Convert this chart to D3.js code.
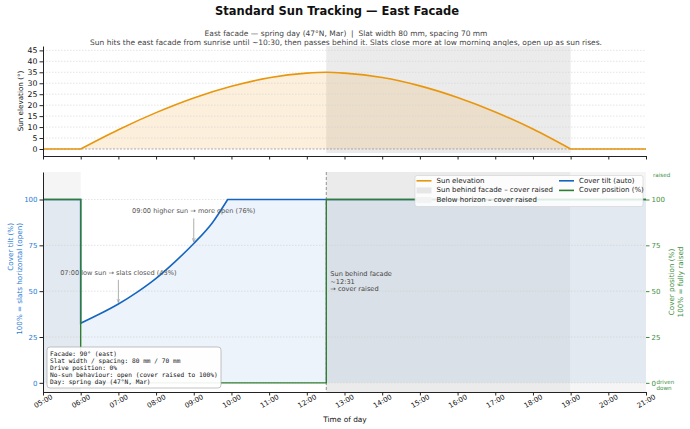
<!DOCTYPE html>
<html><head><meta charset="utf-8">
<script src="https://cdn.jsdelivr.net/npm/d3@7"></script>
<style>body{margin:0;background:#fff;} svg{display:block;font-family:"DejaVu Sans",sans-serif;}</style>
</head><body><svg id="c" width="690" height="429"></svg>
<script>
// ---------- data ----------
const hourTicks = ["05:00","06:00","07:00","08:00","09:00","10:00","11:00","12:00","13:00","14:00","15:00","16:00","17:00","18:00","19:00","20:00","21:00"];
const elevTimes  = ["05:00","06:00","07:00","08:00","09:00","10:00","11:00","12:00","12:31","13:00","14:00","15:00","16:00","17:00","18:00","19:00","20:00","21:00"];
const elevValues = [0, 0, 8.8, 16.6, 23.3, 28.6, 32.5, 34.6, 35, 34.6, 32.6, 28.8, 23.5, 16.9, 9.1, 0, 0, 0];
const tiltTimes  = ["05:00","06:00","06:00","06:30","07:00","07:30","08:00","08:30","09:00","09:30","09:54","12:31","21:00"];
const tiltValues = [100, 100, 32.5, 37.5, 43, 49.5, 57, 66, 76, 87.5, 100, 100, 100];
const posTimes   = ["05:00","06:00","06:00","12:31","12:31","21:00"];
const posValues  = [100, 100, 0, 0, 100, 100];
const behindBand = ["12:31","19:00"];
const horizonBands = [["05:00","06:00"],["19:00","21:00"]];
const behindTime = "12:31";
const elevTicks  = [0,5,10,15,20,25,30,35,40,45];
const coverTicks = [0,25,50,75,100];
const infoLines = ["Facade: 90° (east)","Slat width / spacing: 80 mm / 70 mm","Drive position: 0%","No-sun behaviour: open (cover raised to 100%)","Day: spring day (47°N, Mar)"];
const annotations = [
  {t:"07:00", v:43, ty:60, text:"07:00 low sun → slats closed (43%)"},
  {t:"09:00", v:76, ty:93.5, text:"09:00 higher sun → more open (76%)"}
];
const legendCol1 = [
  {type:"line", color:"#E8960C", label:"Sun elevation"},
  {type:"rect", color:"#e6e6e6", label:"Sun behind facade – cover raised"},
  {type:"rect", color:"#f3f3f3", label:"Below horizon – cover raised"}
];
const legendCol2 = [
  {type:"line", color:"#1565c0", label:"Cover tilt (auto)"},
  {type:"line", color:"#2e7d32", label:"Cover position (%)"}
];

// ---------- helpers ----------
const tp = s => { const [h,m] = s.split(":").map(Number); return h + m/60; };
const ORANGE="#E8960C", BLUE="#1565c0", GREEN="#2e7d32", BLUE_T="#2a7bd6", GREEN_T="#3d8f40";
const svg = d3.select("#c");
const x = d3.scaleLinear().domain([5,21]).range([43,646]);
const yTop = d3.scaleLinear().domain([-3.2,47]).range([156,46]);
const yBot = d3.scaleLinear().domain([-5,115]).range([392,172]);

function buildPath(times, vals, ys){
  const pts = times.map((t,i)=>({t:tp(t), v:vals[i]}));
  const P = pts.map(p=>[x(p.t), ys(p.v)]);
  let d = "M"+P[0][0]+","+P[0][1];
  let i = 0;
  const sloped = k => pts[k+1].t!==pts[k].t && pts[k+1].v!==pts[k].v;
  while(i < pts.length-1){
    if(!sloped(i)){ d += "L"+P[i+1][0]+","+P[i+1][1]; i++; }
    else {
      let j=i+1; while(j<pts.length-1 && sloped(j)) j++;
      const seg = d3.line().curve(d3.curveMonotoneX)(P.slice(i,j+1));
      d += seg.replace(/^M[^A-Za-z]*/,"");
      i=j;
    }
  }
  return {d, first:P[0], last:P[P.length-1]};
}

// ---------- titles ----------
svg.append("text").attr("x",337).attr("y",11).attr("text-anchor","middle").attr("dominant-baseline","central")
  .attr("font-size",11.5).attr("font-weight","bold").attr("fill","#111").text("Standard Sun Tracking — East Facade");
svg.append("text").attr("x",346).attr("y",33).attr("text-anchor","middle").attr("dominant-baseline","central")
  .attr("font-size",7.5).attr("fill","#444").text("East facade — spring day (47°N, Mar)\u00a0\u00a0|\u00a0\u00a0Slat width 80 mm, spacing 70 mm");
svg.append("text").attr("x",346).attr("y",42.3).attr("text-anchor","middle").attr("dominant-baseline","central")
  .attr("font-size",7.5).attr("fill","#444").text("Sun hits the east facade from sunrise until ~10:30, then passes behind it. Slats close more at low morning angles, open up as sun rises.");

// ---------- top chart ----------
const topG = svg.append("g");
topG.append("rect").attr("x",x(tp(behindBand[0]))).attr("width",x(tp(behindBand[1]))-x(tp(behindBand[0])))
  .attr("y",46).attr("height",107).attr("fill","#ebebeb");
const ep = buildPath(elevTimes, elevValues, yTop);
topG.append("path").attr("d", ep.d+"L"+ep.last[0]+","+yTop(0)+"L"+ep.first[0]+","+yTop(0)+"Z")
  .attr("fill",ORANGE).attr("fill-opacity",0.15);
topG.selectAll(".g").data(elevTicks.filter(v=>v>0)).join("line")
  .attr("x1",43).attr("x2",646).attr("y1",d=>yTop(d)).attr("y2",d=>yTop(d))
  .attr("stroke","#d4d4d4").attr("stroke-width",0.6).attr("stroke-dasharray","1.5,1.5");
topG.append("line").attr("x1",43).attr("x2",646).attr("y1",yTop(0)).attr("y2",yTop(0))
  .attr("stroke","#888").attr("stroke-width",0.7).attr("stroke-dasharray","2,1.5");
topG.append("path").attr("d",ep.d).attr("fill","none").attr("stroke",ORANGE).attr("stroke-width",1.6);
const topL = topG.append("g").attr("transform","translate(43,0)")
  .call(d3.axisLeft(yTop).tickValues(elevTicks).tickSize(3.5).tickSizeOuter(0).tickPadding(2));
topL.attr("font-size",7.8).attr("font-family","DejaVu Sans");
topL.selectAll("text").attr("fill","#111");
topL.selectAll("line,path").attr("stroke","#222");
const topX = topG.append("g").attr("transform","translate(0,156)")
  .call(d3.axisBottom(x).tickValues(hourTicks.map(tp)).tickFormat("").tickSize(3.5).tickSizeOuter(0));
topX.selectAll("line,path").attr("stroke","#222");
topG.append("text").attr("transform","translate(20.5,101) rotate(-90)").attr("text-anchor","middle")
  .attr("dominant-baseline","central").attr("font-size",7.2).attr("fill","#111").text("Sun elevation (°)");

// ---------- bottom chart ----------
const bot = svg.append("g");
bot.append("rect").attr("x",x(tp(behindBand[0]))).attr("width",x(tp(behindBand[1]))-x(tp(behindBand[0])))
  .attr("y",172).attr("height",220).attr("fill","#ebebeb");
horizonBands.forEach(b=>{
  bot.append("rect").attr("x",x(tp(b[0]))).attr("width",x(tp(b[1]))-x(tp(b[0])))
    .attr("y",172).attr("height",220).attr("fill","#f5f5f5");
});
const tpth = buildPath(tiltTimes, tiltValues, yBot);
bot.append("path").attr("d", tpth.d+"L"+tpth.last[0]+","+yBot(0)+"L"+tpth.first[0]+","+yBot(0)+"Z")
  .attr("fill",BLUE).attr("fill-opacity",0.08);
bot.selectAll(".g").data(coverTicks).join("line")
  .attr("x1",43).attr("x2",646).attr("y1",d=>yBot(d)).attr("y2",d=>yBot(d))
  .attr("stroke","#d0d0d0").attr("stroke-width",0.6).attr("stroke-dasharray","1.5,1.5");
bot.append("line").attr("x1",x(tp(behindTime))).attr("x2",x(tp(behindTime))).attr("y1",172).attr("y2",392)
  .attr("stroke","#888").attr("stroke-width",0.9).attr("stroke-dasharray","3,2");
bot.append("path").attr("d",tpth.d).attr("fill","none").attr("stroke",BLUE).attr("stroke-width",1.6);
const pp = buildPath(posTimes, posValues, yBot);
bot.append("path").attr("d",pp.d).attr("fill","none").attr("stroke",GREEN).attr("stroke-width",1.4);

// annotations
const defs = svg.append("defs");
defs.append("marker").attr("id","arr").attr("viewBox","0 0 10 10").attr("refX",10).attr("refY",5)
  .attr("markerWidth",5).attr("markerHeight",5).attr("orient","auto")
  .append("path").attr("d","M0,1L10,5L0,9").attr("fill","none").attr("stroke","#999").attr("stroke-width",1.5);
annotations.forEach(a=>{
  const ax = x(tp(a.t));
  bot.append("text").attr("x",ax).attr("y",yBot(a.ty)).attr("text-anchor","middle").attr("dominant-baseline","central")
    .attr("font-size",6.6).attr("fill","#555").text(a.text);
  bot.append("line").attr("x1",ax).attr("x2",ax).attr("y1",yBot(a.ty)+7).attr("y2",yBot(a.v)-1.5)
    .attr("stroke","#999").attr("stroke-width",0.8).attr("marker-end","url(#arr)");
});
["Sun behind facade","~12:31","→ cover raised"].forEach((s,i)=>{
  bot.append("text").attr("x",x(tp(behindTime))+4).attr("y",274+i*7.6).attr("dominant-baseline","central")
    .attr("font-size",6.6).attr("fill","#444").text(s);
});

// axes
const bL = bot.append("g").attr("transform","translate(43,0)")
  .call(d3.axisLeft(yBot).tickValues(coverTicks).tickSize(3.5).tickSizeOuter(0).tickPadding(2));
bL.attr("font-size",7).attr("font-family","DejaVu Sans");
bL.selectAll("text").attr("fill",BLUE_T);
bL.selectAll("line,path").attr("stroke","#222");
const bR = bot.append("g").attr("transform","translate(646,0)")
  .call(d3.axisRight(yBot).tickValues(coverTicks).tickSize(3.5).tickSizeOuter(0).tickPadding(2));
bR.attr("font-size",7).attr("font-family","DejaVu Sans");
bR.select(".domain").remove();
bR.selectAll("text").attr("fill",GREEN_T);
bR.selectAll("line").attr("stroke",GREEN_T);
bot.append("text").attr("x",653).attr("y",175).attr("dominant-baseline","central").attr("font-size",5.6).attr("fill",GREEN_T).text("raised");
["driven","down"].forEach((s,i)=>bot.append("text").attr("x",656.5).attr("y",381.5+i*6.8).attr("dominant-baseline","central")
  .attr("font-size",5.6).attr("fill",GREEN_T).text(s));
const bX = bot.append("g").attr("transform","translate(0,392)")
  .call(d3.axisBottom(x).tickValues(hourTicks.map(tp)).tickFormat((d,i)=>hourTicks[i]).tickSize(3.5).tickSizeOuter(0));
bX.selectAll("line,path").attr("stroke","#222");
bX.attr("font-size",7).attr("font-family","DejaVu Sans");
bX.selectAll("text").attr("fill","#111").attr("y",0).attr("dy",null)
  .attr("transform","translate(0,9.5) rotate(-30)").attr("text-anchor","middle").attr("dominant-baseline","central");
bot.append("text").attr("x",345).attr("y",419).attr("text-anchor","middle").attr("dominant-baseline","central")
  .attr("font-size",7.4).attr("fill","#111").text("Time of day");
// axis titles
["Cover tilt (%)","100% = slats horizontal (open)"].forEach((s,i)=>{
  bot.append("text").attr("transform",`translate(${10+i*9.3},223) rotate(-90)`).attr("text-anchor","end")
    .attr("dominant-baseline","central").attr("font-size",7.2).attr("fill",BLUE_T).text(s);
});
["Cover position (%)","100% = fully raised"].forEach((s,i)=>{
  bot.append("text").attr("transform",`translate(${671.5+i*9},282) rotate(-90)`).attr("text-anchor","middle")
    .attr("dominant-baseline","central").attr("font-size",7.2).attr("fill",GREEN_T).text(s);
});

// legend
const lg = bot.append("g");
lg.append("rect").attr("x",415).attr("y",175.5).attr("width",228).attr("height",31).attr("rx",2)
  .attr("fill","#fff").attr("fill-opacity",0.85).attr("stroke","#d0d0d0").attr("stroke-width",0.6);
function legItem(it, lx, ly){
  if(it.type==="line") lg.append("line").attr("x1",lx).attr("x2",lx+15).attr("y1",ly).attr("y2",ly).attr("stroke",it.color).attr("stroke-width",1.6);
  else lg.append("rect").attr("x",lx).attr("y",ly-3).attr("width",15).attr("height",6).attr("fill",it.color);
  lg.append("text").attr("x",lx+20).attr("y",ly).attr("dominant-baseline","central").attr("font-size",7).attr("fill","#222").text(it.label);
}
legendCol1.forEach((it,i)=>legItem(it,416.5,180.8+i*9.6));
legendCol2.forEach((it,i)=>legItem(it,559,180.8+i*9.6));

// info box
const ib = bot.append("g");
ib.append("rect").attr("x",47).attr("y",347).attr("width",174).attr("height",41).attr("rx",3)
  .attr("fill","#fff").attr("fill-opacity",0.92).attr("stroke","#aaa").attr("stroke-width",0.7);
infoLines.forEach((s,i)=>ib.append("text").attr("x",50).attr("y",353.4+i*7.1).attr("dominant-baseline","central")
  .attr("font-family","DejaVu Sans Mono").attr("font-size",6.2).attr("fill","#111").text(s));
</script></body></html>
